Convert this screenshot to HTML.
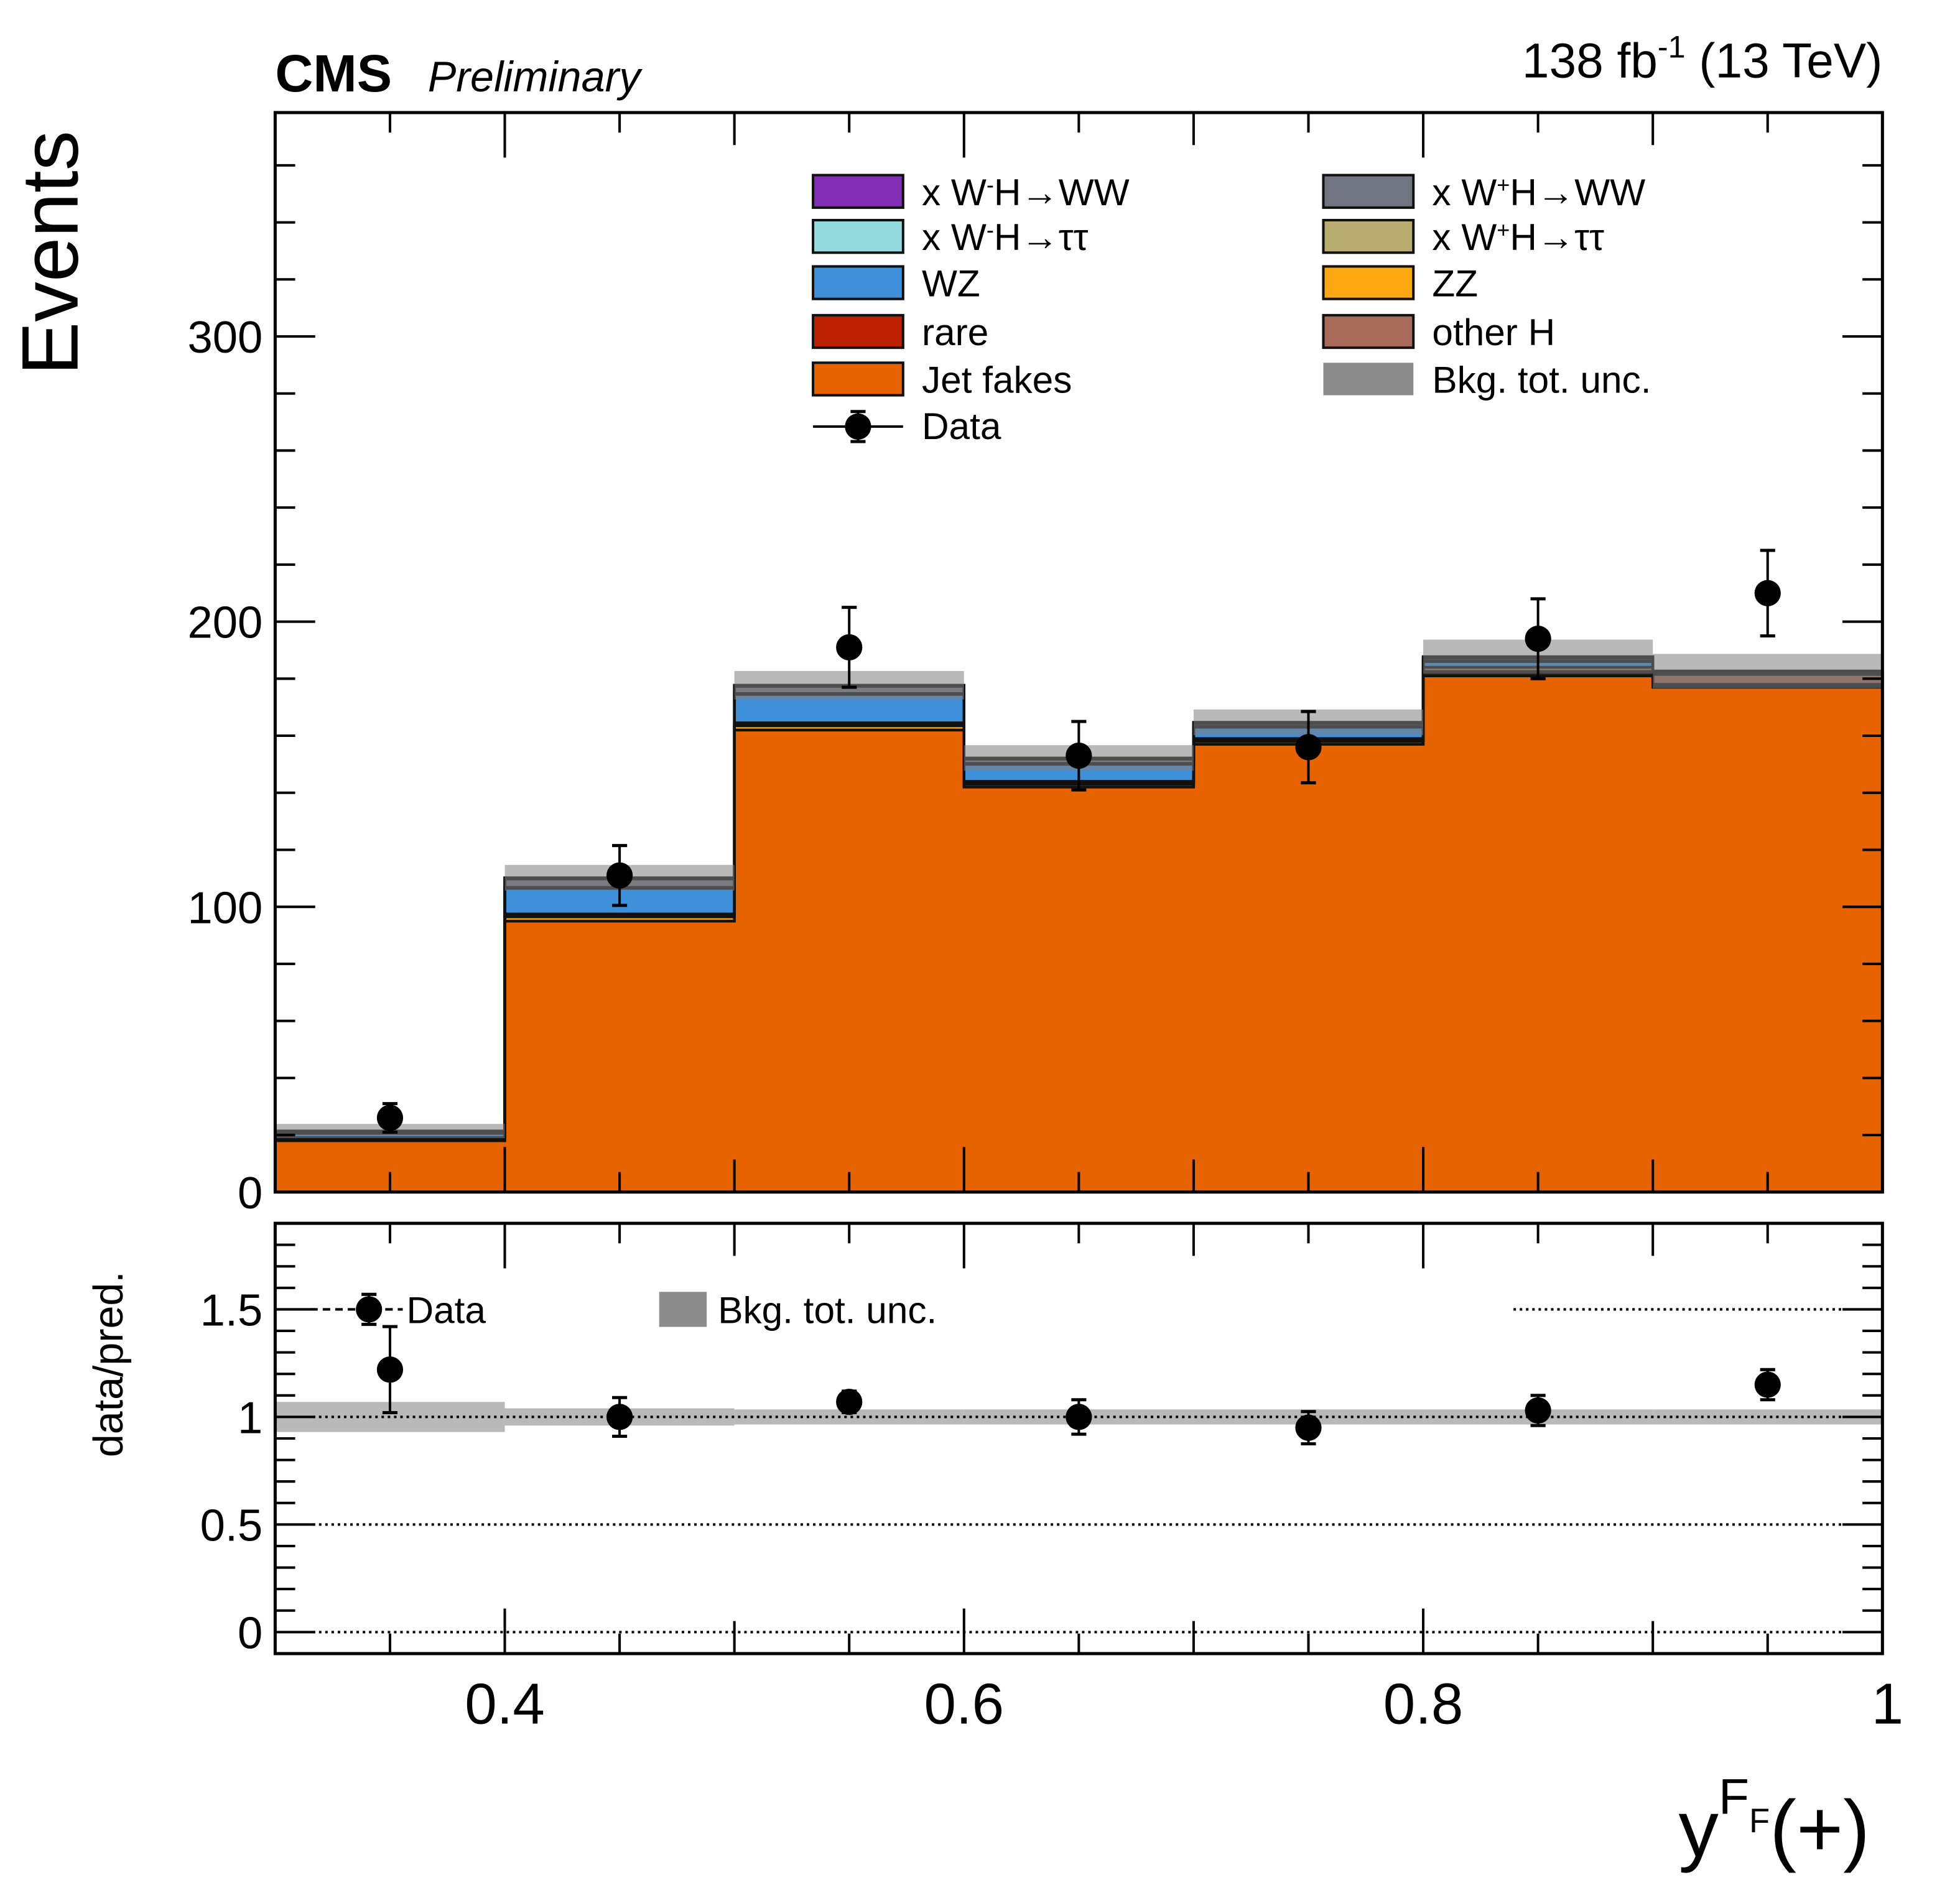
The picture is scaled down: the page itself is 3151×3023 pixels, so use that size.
<!DOCTYPE html>
<html><head><meta charset="utf-8"><style>
html,body{margin:0;padding:0;background:#fff;}
svg{display:block;}
text{font-family:"Liberation Sans",sans-serif;}
</style></head><body>
<svg id="chart" width="3151" height="3023" viewBox="0 0 1567 1503" preserveAspectRatio="none" xmlns="http://www.w3.org/2000/svg">
<g id="topPanel"></g>
<g id="botPanel"></g>
<g id="txt">
<text x="220" y="73" font-size="42" font-weight="bold">CMS</text>
<text x="342" y="73" font-size="34" font-style="italic">Preliminary</text>
<text x="1505" y="62" font-size="39" text-anchor="end">138 fb<tspan dy="-16" font-size="25">-1</tspan><tspan dy="16"> (13 TeV)</tspan></text>
<text transform="translate(62,300) rotate(-90)" font-size="64">Events</text>
<text transform="translate(98,1165) rotate(-90)" font-size="33">data/pred.</text>
<text x="1342" y="1484" font-size="64">y<tspan dy="-34" font-size="40">F</tspan><tspan dy="15" font-size="27">F</tspan><tspan dy="19">(+)</tspan></text>
</g>
</svg>
<script>
const edges=[0.3,0.4,0.5,0.6,0.7,0.8,0.9,1.0];
const jetFakes=[18,95,162,142,157,181,177];
const zz=[0.5,1.5,1.5,1,1,1,0.5];
const rare=[0.3,0.5,0.5,0.5,0.5,0.5,0.5];
const otherH=[0.3,0.5,0.5,0.5,0.5,1.5,3.5];
const wz=[1.5,9,10,6,4,2,0.5];
const wpHtautau=[0.1,0.3,0.3,0.3,0.3,0.3,0.2];
const wpHWW=[0.5,3,2.5,1.5,1,1,0.3];
const wmHtautau=[0.1,0.2,0.2,0.2,0.2,0.2,0.1];
const wmHWW=[0.1,0.2,0.2,0.2,0.2,0.2,0.1];
const uncTot=[2.5,4.5,5,4.5,4.5,6,6];
const dataVals=[26,111,191,153,156,194,210];
const dataErr=[5,10.5,14,12,12.5,14,15];
const ratioVals=[1.22,1.0,1.07,1.0,0.95,1.03,1.15];
const ratioErr=[0.2,0.09,0.05,0.08,0.075,0.07,0.07];
const ratioUnc=[0.07,0.04,0.035,0.035,0.035,0.035,0.035];
const yTicks=[0,100,200,300];
const rTicks=[0,0.5,1,1.5];
const xTicks=[0.4,0.6,0.8,1];

const NS="http://www.w3.org/2000/svg";
const X0=220,X1=1505,TY0=953,TY1=90,BY0=1322,BY1=978;
const xs=v=>X0+(v-0.3)/0.7*(X1-X0);
const ys=v=>TY0-v/378.5*(TY0-TY1);
const yr=v=>BY0-(v+0.1)/2.0*(BY0-BY1);
function mk(p,t,a){const e=document.createElementNS(NS,t);for(const k in a)e.setAttribute(k,a[k]);p.appendChild(e);return e;}
const topG=document.getElementById('topPanel'),botG=document.getElementById('botPanel');
const layers=[[jetFakes,'#e66300','jet-fakes'],[zz,'#fda811','zz'],[rare,'#bd1f01','rare'],[otherH,'#a96b59','other-h'],[wz,'#3f90da','wz'],[wpHtautau,'#b9ac70','wplus-h-tautau'],[wpHWW,'#717581','wplus-h-ww'],[wmHtautau,'#92dadd','wminus-h-tautau'],[wmHWW,'#832db6','wminus-h-ww']];
const cum=edges.slice(0,-1).map(()=>0);
const tops=[];
layers.forEach(([arr,col,nm])=>{
  const lo=cum.slice();
  for(let i=0;i<arr.length;i++)cum[i]+=arr[i];
  for(let i=0;i<arr.length;i++){
    const r=mk(topG,'rect',{x:xs(edges[i]),y:ys(cum[i]),width:xs(edges[i+1])-xs(edges[i])+0.5,height:Math.max(0,ys(lo[i])-ys(cum[i])),fill:col});
    
    
  }
  tops.push(cum.slice());
});
tops.forEach(t=>{
  let d='M'+xs(edges[0])+','+ys(0);
  for(let i=0;i<t.length;i++)d+=' L'+xs(edges[i])+','+ys(t[i])+' L'+xs(edges[i+1])+','+ys(t[i]);
  d+=' L'+xs(edges[edges.length-1])+','+ys(0);
  const p=mk(topG,'path',{d:d,fill:'none',stroke:'#111','stroke-width':2.2});
  
  
});
for(let i=0;i<uncTot.length;i++){
  const r=mk(topG,'rect',{x:xs(edges[i]),y:ys(cum[i]+uncTot[i]),width:xs(edges[i+1])-xs(edges[i]),height:ys(cum[i]-uncTot[i])-ys(cum[i]+uncTot[i]),fill:'#7f7f7f','fill-opacity':0.55});
  
  
}
function point(g,cx,cy,elo,ehi,nm){
  const gg=mk(g,'g',{});
  
  
  mk(gg,'line',{x1:cx,x2:cx,y1:elo,y2:ehi,stroke:'#000','stroke-width':2});
  mk(gg,'line',{x1:cx-6,x2:cx+6,y1:elo,y2:elo,stroke:'#000','stroke-width':2.5});
  mk(gg,'line',{x1:cx-6,x2:cx+6,y1:ehi,y2:ehi,stroke:'#000','stroke-width':2.5});
  mk(gg,'circle',{cx:cx,cy:cy,r:10.5,fill:'#000'});
}
for(let i=0;i<dataVals.length;i++){
  const cx=(xs(edges[i])+xs(edges[i+1]))/2;
  point(topG,cx,ys(dataVals[i]),ys(dataVals[i]-dataErr[i]),ys(dataVals[i]+dataErr[i]),'data-point');
}
function frame(g,y0,y1,tickVals,minorStep,minorFrom,minorTo,ysF,lab){
  mk(g,'rect',{x:X0,y:y1,width:X1-X0,height:y0-y1,fill:'none',stroke:'#000','stroke-width':2.5});
  for(let k=0;k<=14;k++){
    const v=0.3+k*0.05,x=xs(v);
    const L=(k%4==2)?36:(k%2==0?26:16);
    mk(g,'line',{x1:x,x2:x,y1:y0,y2:y0-L,stroke:'#000','stroke-width':2});
    mk(g,'line',{x1:x,x2:x,y1:y1,y2:y1+L,stroke:'#000','stroke-width':2});
  }
  const n=Math.round((minorTo-minorFrom)/minorStep);
  for(let k=0;k<=n;k++){
    const v=minorFrom+k*minorStep;
    const y=ysF(v);
    const major=tickVals.some(t=>Math.abs(t-v)<1e-6);
    const L=major?32:16;
    mk(g,'line',{x1:X0,x2:X0+L,y1:y,y2:y,stroke:'#000','stroke-width':2});
    mk(g,'line',{x1:X1,x2:X1-L,y1:y,y2:y,stroke:'#000','stroke-width':2});
  }
  if(lab)tickVals.forEach(v=>{
    const t=mk(g,'text',{x:X0-10,y:ysF(v)+13,'font-size':36,'text-anchor':'end'});
    t.textContent=String(v);
    
    
  });
}
frame(topG,TY0,TY1,yTicks,20,0,360,ys,true);
const leg=[[650,153,'#832db6','x W<tspan dy="-10" font-size="18">-</tspan><tspan dy="10">H→WW</tspan>'],[650,189,'#92dadd','x W<tspan dy="-10" font-size="18">-</tspan><tspan dy="10">H→ττ</tspan>'],[650,226,'#3f90da','WZ'],[650,265,'#bd1f01','rare'],[650,303,'#e66300','Jet fakes'],
[1058,153,'#717581','x W<tspan dy="-10" font-size="18">+</tspan><tspan dy="10">H→WW</tspan>'],[1058,189,'#b9ac70','x W<tspan dy="-10" font-size="18">+</tspan><tspan dy="10">H→ττ</tspan>'],[1058,226,'#fda811','ZZ'],[1058,265,'#a96b59','other H']];
leg.forEach(([x,y,c,t])=>{
  const r=mk(topG,'rect',{x:x,y:y-13,width:72,height:26,fill:c,stroke:'#111','stroke-width':2});
  
  
  const tx=mk(topG,'text',{x:x+87,y:y+11,'font-size':30});
  tx.innerHTML=t;
  
  
});
{const r=mk(topG,'rect',{x:1058,y:290,width:72,height:26,fill:'#8c8c8c'});


const tx=mk(topG,'text',{x:1145,y:314,'font-size':30});tx.textContent='Bkg. tot. unc.';


mk(topG,'line',{x1:650,x2:722,y1:341,y2:341,stroke:'#000','stroke-width':2});
point(topG,686,341,353,329,'legend-data-marker');
const t2=mk(topG,'text',{x:737,y:351,'font-size':30});t2.textContent='Data';

}
for(let i=0;i<ratioUnc.length;i++){
  const r=mk(botG,'rect',{x:xs(edges[i]),y:yr(1+ratioUnc[i]),width:xs(edges[i+1])-xs(edges[i]),height:yr(1-ratioUnc[i])-yr(1+ratioUnc[i]),fill:'#b9b9b9'});
  
  
}
[0,0.5,1].forEach(v=>{const l=mk(botG,'line',{x1:X0+30,x2:X1-30,y1:yr(v),y2:yr(v),stroke:'#000','stroke-width':2,'stroke-dasharray':'2,3'});

});
mk(botG,'line',{x1:1210,x2:1475,y1:yr(1.5),y2:yr(1.5),stroke:'#000','stroke-width':2,'stroke-dasharray':'2,3'});
for(let i=0;i<ratioVals.length;i++){
  const cx=(xs(edges[i])+xs(edges[i+1]))/2;
  point(botG,cx,yr(ratioVals[i]),yr(ratioVals[i]-ratioErr[i]),yr(ratioVals[i]+ratioErr[i]),'ratio-point');
}
frame(botG,BY0,BY1,rTicks,0.1,-0.1,1.8,yr,false);
rTicks.forEach(v=>{const t=mk(botG,'text',{x:210,y:yr(v)+13,'font-size':36,'text-anchor':'end'});t.textContent=String(v);

});
xTicks.forEach(v=>{const t=mk(botG,'text',{x:v==1?X1+4:xs(v),y:1378,'font-size':46,'text-anchor':'middle'});t.textContent=String(v);

});
mk(botG,'line',{x1:248,x2:322,y1:yr(1.5),y2:yr(1.5),stroke:'#000','stroke-width':2,'stroke-dasharray':'6,4'});
point(botG,295,yr(1.5),yr(1.5)+12,yr(1.5)-12,'ratio-legend-data');
{const t=mk(botG,'text',{x:325,y:yr(1.5)+11,'font-size':30});t.textContent='Data';


const r=mk(botG,'rect',{x:527,y:yr(1.5)-14,width:38,height:28,fill:'#8c8c8c'});


const t2=mk(botG,'text',{x:574,y:yr(1.5)+11,'font-size':30});t2.textContent='Bkg. tot. unc.';

}
</script>
</body></html>
